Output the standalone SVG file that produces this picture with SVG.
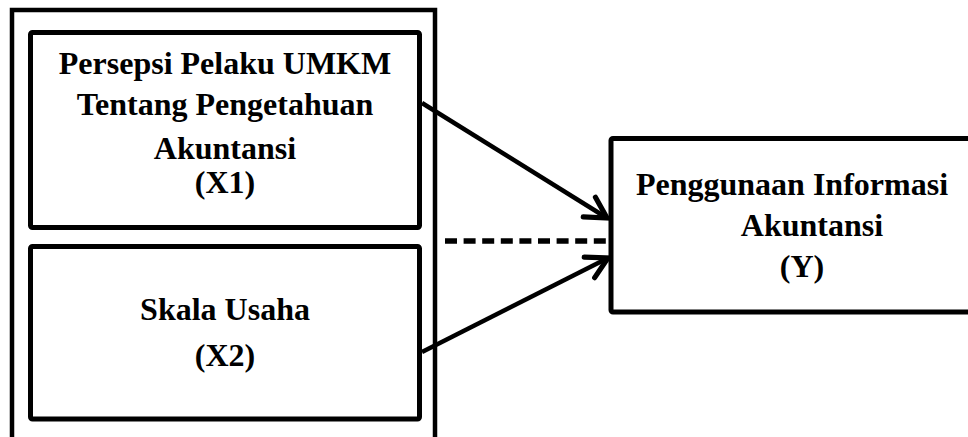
<svg xmlns="http://www.w3.org/2000/svg" width="968" height="437" viewBox="0 0 968 437">
  <style>
    .box { fill: none; stroke: #000; stroke-width: 5; stroke-linejoin: round; }
    .outer { fill: none; stroke: #000; stroke-width: 4.5; }
    .lbl { font-family: "Liberation Serif", "Times New Roman", serif; font-weight: bold; font-size: 32px; fill: #000; text-anchor: middle; }
    .conn { stroke: #000; stroke-width: 4.5; fill: none; }
    .dash { stroke: #000; stroke-width: 5.5; fill: none; stroke-dasharray: 12 6.6; }
  </style>
  <defs>
    <marker id="arr" markerUnits="userSpaceOnUse" markerWidth="30" markerHeight="30" viewBox="-22 -13 26 26" refX="0" refY="0" orient="auto" overflow="visible">
      <path d="M -18 -10 L 0 0 L -18 10" fill="none" stroke="#000" stroke-width="4.5" stroke-linecap="round" stroke-linejoin="miter"/>
    </marker>
  </defs>
  <rect width="968" height="437" fill="#fff"/>

  <g id="group-x">
    <rect class="outer" x="12" y="10" width="423" height="440"/>
  </g>

  <g id="node-x1">
    <rect class="box" x="30.5" y="32.5" width="389" height="195" rx="2"/>
    <text class="lbl" x="225" y="74">Persepsi Pelaku UMKM</text>
    <text class="lbl" x="225" y="115">Tentang Pengetahuan</text>
    <text class="lbl" x="225" y="159">Akuntansi</text>
    <text class="lbl" x="225" y="193">(X1)</text>
  </g>

  <g id="node-x2">
    <rect class="box" x="30.5" y="246.5" width="389" height="172.5" rx="2"/>
    <text class="lbl" x="225" y="320">Skala Usaha</text>
    <text class="lbl" x="225" y="366">(X2)</text>
  </g>

  <g id="node-y">
    <rect class="box" x="611" y="138.5" width="380" height="173.5" rx="2"/>
    <text class="lbl" x="792" y="195">Penggunaan Informasi</text>
    <text class="lbl" x="812" y="236">Akuntansi</text>
    <text class="lbl" x="802" y="277">(Y)</text>
  </g>

  <g id="connectors">
    <line class="conn" x1="422" y1="103" x2="607" y2="218" marker-end="url(#arr)"/>
    <line class="conn" x1="422" y1="352" x2="608" y2="258" marker-end="url(#arr)"/>
    <line class="dash" x1="445" y1="241" x2="608" y2="241"/>
  </g>
</svg>
